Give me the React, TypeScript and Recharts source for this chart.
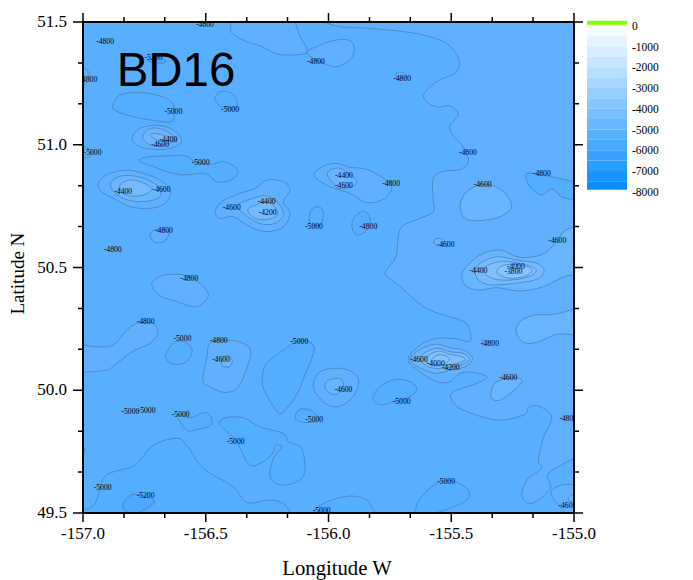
import React from 'react';
import { ComposedChart, ScatterChart, Scatter, XAxis, YAxis, ReferenceArea } from 'recharts';

type Pt = [number, number];

const xTicks = [-157, -156.833, -156.667, -156.5, -156.333, -156.167, -156, -155.833, -155.667, -155.5, -155.333, -155.167, -155];
const yTicks = [49.5, 49.667, 49.833, 50, 50.167, 50.333, 50.5, 50.667, 50.833, 51, 51.167, 51.333, 51.5];
const legendTicks = [0, -1000, -2000, -3000, -4000, -5000, -6000, -7000, -8000];
const bandEdges = [-150, -500, -1000, -1500, -2000, -2500, -3000, -3500, -4000, -4500, -5000, -5500, -6000, -6500, -7000, -7500, -7900];
const bandColors = ['#F7FBFF', '#E7F4FF', '#D7ECFF', '#C7E5FF', '#B7DEFF', '#A7D6FF', '#97CFFF', '#87C7FF', '#78C0FF', '#68B8FF', '#58B1FF', '#48A9FF', '#38A2FF', '#289BFF', '#1893FF', '#088CFF'];

const levelColor: Record<string, string> = {
  '-5200': '#4FA8FF', '-5000': '#54AEFF', '-4800': '#60B0FF', '-4600': '#6AB5FF',
  '-4400': '#74BAFF', '-4200': '#7EBFFF', '-4000': '#88C4FF', '-3800': '#92C9FF',
};

const bottomLeft: Pt[] = [[-157, 49.512], [-156.951, 49.539], [-156.917, 49.641], [-156.876, 49.668], [-156.788, 49.695], [-156.713, 49.777], [-156.618, 49.804], [-156.578, 49.777], [-156.51, 49.682], [-156.388, 49.607], [-156.333, 49.543], [-156.238, 49.553], [-156.184, 49.539], [-156.154, 49.5]];
const bottomLeftCorner: Pt[] = [[-157, 49.5]];
const lowBlob5200: Pt[] = [[-156.838, 49.532], [-156.815, 49.566], [-156.781, 49.576], [-156.713, 49.553], [-156.72, 49.532], [-156.781, 49.5], [-156.822, 49.505]];
const topBlob5000: Pt[] = [[-156.879, 51.162], [-156.849, 51.203], [-156.781, 51.213], [-156.7, 51.203], [-156.639, 51.175], [-156.629, 51.135], [-156.639, 51.094], [-156.727, 51.101], [-156.822, 51.121], [-156.87, 51.141]];
const topSmall5000: Pt[] = [[-156.462, 51.193], [-156.442, 51.216], [-156.408, 51.216], [-156.381, 51.196], [-156.374, 51.155], [-156.428, 51.152], [-156.453, 51.169]];
const tiny5200: Pt[] = [[-156.734, 51.345], [-156.686, 51.359], [-156.663, 51.338], [-156.686, 51.332], [-156.727, 51.338]];
const leftEdge5000: Pt[] = [[-157, 50.995], [-156.971, 50.979], [-156.971, 50.951], [-157, 50.945]];
const long5000: Pt[] = [[-156.768, 50.931], [-156.747, 50.949], [-156.659, 50.955], [-156.584, 50.955], [-156.544, 50.931], [-156.483, 50.921], [-156.428, 50.931], [-156.381, 50.911], [-156.37, 50.883], [-156.401, 50.854], [-156.455, 50.85], [-156.503, 50.883], [-156.591, 50.877], [-156.659, 50.89], [-156.713, 50.911]];
const mid5000: Pt[] = [[-156.078, 50.707], [-156.068, 50.737], [-156.041, 50.748], [-156.021, 50.727], [-156.028, 50.68], [-156.055, 50.669], [-156.075, 50.68]];
const eastSmall5000: Pt[] = [[-155.905, 50.673], [-155.892, 50.707], [-155.858, 50.73], [-155.833, 50.707], [-155.833, 50.666], [-155.865, 50.636], [-155.892, 50.636]];
const south5000a: Pt[] = [[-155.82, 49.967], [-155.79, 50.014], [-155.729, 50.044], [-155.668, 50.035], [-155.641, 50.005], [-155.668, 49.974], [-155.736, 49.953], [-155.79, 49.94]];
const south5000b: Pt[] = [[-155.65, 49.5], [-155.627, 49.559], [-155.559, 49.621], [-155.491, 49.63], [-155.43, 49.593], [-155.437, 49.553], [-155.505, 49.519], [-155.566, 49.5]];
const south5000c: Pt[] = [[-156.062, 49.5], [-156.034, 49.532], [-155.967, 49.559], [-155.905, 49.569], [-155.844, 49.553], [-155.81, 49.5]];
const west5000a: Pt[] = [[-156.663, 50.143], [-156.632, 50.191], [-156.591, 50.2], [-156.555, 50.164], [-156.578, 50.116], [-156.618, 50.105], [-156.652, 50.116]];
const west5000b: Pt[] = [[-156.269, 50.062], [-156.252, 50.109], [-156.184, 50.164], [-156.116, 50.204], [-156.062, 50.184], [-156.068, 50.13], [-156.102, 50.048], [-156.13, 49.98], [-156.191, 49.906], [-156.218, 49.926], [-156.252, 49.98], [-156.269, 50.021]];
const west5000c: Pt[] = [[-156.134, 49.899], [-156.116, 49.923], [-156.075, 49.919], [-156.041, 49.892], [-156.048, 49.872], [-156.102, 49.869], [-156.13, 49.879]];
const west5000d: Pt[] = [[-156.618, 49.899], [-156.564, 49.888], [-156.503, 49.91], [-156.476, 49.885], [-156.483, 49.855], [-156.544, 49.838], [-156.578, 49.838]];
const center5000: Pt[] = [[-156.445, 49.865], [-156.421, 49.888], [-156.347, 49.888], [-156.279, 49.851], [-156.184, 49.824], [-156.163, 49.79], [-156.109, 49.763], [-156.098, 49.661], [-156.143, 49.621], [-156.204, 49.616], [-156.238, 49.648], [-156.225, 49.722], [-156.191, 49.77], [-156.218, 49.774], [-156.231, 49.736], [-156.299, 49.693], [-156.333, 49.709], [-156.374, 49.79], [-156.428, 49.845]];
const leftNick5000: Pt[] = [[-157, 49.77], [-156.992, 49.756], [-157, 49.736]];

const topBand: Pt[] = [[-156.398, 51.5], [-156.392, 51.454], [-156.333, 51.42], [-156.272, 51.4], [-156.211, 51.37], [-156.143, 51.366], [-156.086, 51.379], [-156.116, 51.44], [-156.136, 51.5]];
const topLobe: Pt[] = [[-156.086, 51.379], [-156.034, 51.406], [-155.967, 51.427], [-155.912, 51.424], [-155.895, 51.393], [-155.91, 51.348], [-155.967, 51.318], [-156.021, 51.332], [-156.062, 51.352]];
const eastMain: Pt[] = [[-156.021, 51.5], [-155.953, 51.481], [-155.831, 51.474], [-155.695, 51.461], [-155.613, 51.447], [-155.532, 51.42], [-155.491, 51.386], [-155.467, 51.338], [-155.484, 51.291], [-155.559, 51.257], [-155.613, 51.199], [-155.566, 51.155], [-155.505, 51.158], [-155.471, 51.121], [-155.505, 51.08], [-155.498, 51.046], [-155.451, 50.992], [-155.43, 50.931], [-155.464, 50.9], [-155.539, 50.89], [-155.575, 50.856], [-155.573, 50.775], [-155.573, 50.727], [-155.627, 50.7], [-155.702, 50.666], [-155.719, 50.598], [-155.725, 50.544], [-155.763, 50.49], [-155.767, 50.469], [-155.709, 50.422], [-155.6, 50.333], [-155.464, 50.286], [-155.43, 50.259], [-155.423, 50.2], [-155.478, 50.209], [-155.559, 50.211], [-155.627, 50.184], [-155.675, 50.126], [-155.627, 50.075], [-155.559, 50.035], [-155.505, 50.035], [-155.464, 50.069], [-155.417, 50.073], [-155.355, 50.055], [-155.396, 50.028], [-155.491, 49.994], [-155.498, 49.96], [-155.451, 49.919], [-155.315, 49.879], [-155.206, 49.899], [-155.182, 49.933], [-155.138, 49.933], [-155.091, 49.892], [-155.125, 49.804], [-155.145, 49.716], [-155.131, 49.682], [-155.186, 49.641], [-155.213, 49.573], [-155.172, 49.539], [-155.097, 49.6], [-155.104, 49.661], [-155, 49.722]];
const eastMainCorner: Pt[] = [[-155, 51.5]];
const eastNotch: Pt[] = [[-155, 50.85], [-155.097, 50.87], [-155.193, 50.883], [-155.179, 50.829], [-155.131, 50.795], [-155.091, 50.82], [-155.05, 50.788], [-155, 50.775]];
const southEast: Pt[] = [[-155, 49.616], [-155.05, 49.614], [-155.091, 49.593], [-155.084, 49.559], [-155.036, 49.5]];
const southEastCorner: Pt[] = [[-155, 49.5]];
const leftTop4800: Pt[] = [[-157, 51.318], [-156.978, 51.298], [-156.974, 51.27], [-157, 51.237]];
const peak1Outer: Pt[] = [[-156.799, 51.019], [-156.775, 51.063], [-156.7, 51.08], [-156.632, 51.06], [-156.598, 51.019], [-156.625, 50.992], [-156.686, 50.981], [-156.761, 50.989]];
const peak2Outer: Pt[] = [[-156.938, 50.843], [-156.904, 50.877], [-156.829, 50.897], [-156.754, 50.883], [-156.686, 50.856], [-156.643, 50.809], [-156.666, 50.761], [-156.727, 50.741], [-156.809, 50.748], [-156.876, 50.782], [-156.924, 50.809]];
const peak3Outer: Pt[] = [[-156.462, 50.727], [-156.435, 50.768], [-156.36, 50.802], [-156.299, 50.822], [-156.252, 50.856], [-156.184, 50.85], [-156.157, 50.816], [-156.184, 50.768], [-156.157, 50.721], [-156.184, 50.666], [-156.252, 50.646], [-156.32, 50.666], [-156.388, 50.707], [-156.442, 50.7]];
const small4800a: Pt[] = [[-156.727, 50.632], [-156.707, 50.653], [-156.652, 50.646], [-156.666, 50.609], [-156.707, 50.602]];
const north4800: Pt[] = [[-156.058, 50.881], [-156.021, 50.913], [-155.967, 50.924], [-155.912, 50.908], [-155.844, 50.9], [-155.776, 50.863], [-155.742, 50.829], [-155.77, 50.782], [-155.844, 50.764], [-155.912, 50.802], [-155.994, 50.829], [-156.041, 50.856]];
const small4800b: Pt[] = [[-155.725, 51.291], [-155.702, 51.295], [-155.684, 51.277], [-155.717, 51.269]];
const small4800c: Pt[] = [[-155.376, 50.195], [-155.362, 50.204], [-155.349, 50.195], [-155.369, 50.184]];
const west4800a: Pt[] = [[-156.72, 50.429], [-156.693, 50.462], [-156.646, 50.472], [-156.578, 50.467], [-156.517, 50.429], [-156.489, 50.388], [-156.517, 50.35], [-156.551, 50.34], [-156.618, 50.361], [-156.686, 50.385]];
const westArm: Pt[] = [[-157, 50.184], [-156.944, 50.177], [-156.876, 50.184], [-156.829, 50.238], [-156.781, 50.272], [-156.713, 50.272], [-156.696, 50.232], [-156.727, 50.191], [-156.795, 50.16], [-156.863, 50.109], [-156.904, 50.082], [-157, 50.073]];
const squarePeak: Pt[] = [[-156.512, 50.041], [-156.496, 50.13], [-156.483, 50.191], [-156.415, 50.204], [-156.347, 50.191], [-156.317, 50.157], [-156.333, 50.089], [-156.367, 50.014], [-156.421, 49.991], [-156.483, 50.014]];
const south4800: Pt[] = [[-156.062, 50.014], [-156.041, 50.069], [-155.987, 50.089], [-155.919, 50.082], [-155.878, 50.041], [-155.899, 49.974], [-155.96, 49.933], [-156.021, 49.953]];

const peak1Mid: Pt[] = [[-156.757, 51.033], [-156.734, 51.063], [-156.693, 51.067], [-156.646, 51.046], [-156.618, 51.019], [-156.652, 51.006], [-156.707, 50.995], [-156.741, 51.008]];
const peak2Mid: Pt[] = [[-156.887, 50.843], [-156.856, 50.87], [-156.802, 50.874], [-156.741, 50.859], [-156.693, 50.829], [-156.684, 50.795], [-156.713, 50.775], [-156.781, 50.768], [-156.836, 50.782], [-156.876, 50.809]];
const peak3Mid: Pt[] = [[-156.374, 50.754], [-156.306, 50.782], [-156.252, 50.792], [-156.204, 50.761], [-156.184, 50.714], [-156.218, 50.68], [-156.272, 50.677], [-156.32, 50.7], [-156.36, 50.734]];
const north4600: Pt[] = [[-156.005, 50.877], [-155.994, 50.897], [-155.953, 50.904], [-155.912, 50.877], [-155.885, 50.852], [-155.905, 50.829], [-155.96, 50.822], [-155.98, 50.843]];
const east4600Blob: Pt[] = [[-155.464, 50.754], [-155.437, 50.809], [-155.383, 50.836], [-155.328, 50.832], [-155.281, 50.802], [-155.254, 50.748], [-155.301, 50.707], [-155.383, 50.691], [-155.444, 50.7]];
const east4600Small: Pt[] = [[-155.569, 50.612], [-155.546, 50.619], [-155.525, 50.605], [-155.552, 50.587], [-155.566, 50.592]];
const eastPeak4600: Pt[] = [[-155, 50.666], [-155.043, 50.646], [-155.077, 50.598], [-155.131, 50.553], [-155.22, 50.541], [-155.301, 50.571], [-155.383, 50.551], [-155.444, 50.496], [-155.457, 50.462], [-155.437, 50.422], [-155.383, 50.408], [-155.315, 50.418], [-155.22, 50.404], [-155.125, 50.422], [-155.043, 50.462], [-155, 50.469]];
const eastLight: Pt[] = [[-155, 50.331], [-155.084, 50.309], [-155.165, 50.306], [-155.22, 50.279], [-155.236, 50.238], [-155.206, 50.195], [-155.152, 50.195], [-155.07, 50.228], [-155, 50.225]];
const south4600a: Pt[] = [[-155.339, 49.987], [-155.315, 50.035], [-155.233, 50.051], [-155.213, 50.032], [-155.26, 49.987], [-155.301, 49.96], [-155.331, 49.963]];
const south4600b: Pt[] = [[-156.014, 50.014], [-156.001, 50.041], [-155.96, 50.048], [-155.939, 50.028], [-155.96, 49.987], [-155.994, 49.987]];
const square4600: Pt[] = [[-156.435, 50.123], [-156.415, 50.141], [-156.392, 50.123], [-156.404, 50.096], [-156.431, 50.099]];
const corner4600: Pt[] = [[-155, 49.576], [-155.016, 49.57], [-155.023, 49.553], [-155, 49.543]];
const ring4600: Pt[] = [[-155.665, 50.127], [-155.641, 50.157], [-155.593, 50.181], [-155.552, 50.187], [-155.505, 50.173], [-155.451, 50.164], [-155.413, 50.13], [-155.444, 50.096], [-155.505, 50.082], [-155.559, 50.069], [-155.607, 50.082], [-155.647, 50.103]];

const peak1High: Pt[] = [[-156.724, 51.036], [-156.72, 51.046], [-156.693, 51.044], [-156.652, 51.033], [-156.621, 51.019], [-156.659, 51.017], [-156.697, 51.019]];
const peak2High: Pt[] = [[-156.849, 50.836], [-156.815, 50.856], [-156.768, 50.85], [-156.727, 50.829], [-156.72, 50.816], [-156.754, 50.795], [-156.809, 50.791], [-156.842, 50.809]];
const peak3High: Pt[] = [[-156.329, 50.734], [-156.299, 50.754], [-156.245, 50.768], [-156.211, 50.734], [-156.211, 50.71], [-156.252, 50.696], [-156.299, 50.7]];
const east4400: Pt[] = [[-155.403, 50.483], [-155.383, 50.517], [-155.315, 50.544], [-155.233, 50.53], [-155.152, 50.517], [-155.122, 50.487], [-155.152, 50.452], [-155.247, 50.435], [-155.342, 50.429], [-155.389, 50.449]];
const east4200: Pt[] = [[-155.369, 50.483], [-155.349, 50.51], [-155.288, 50.525], [-155.22, 50.517], [-155.154, 50.492], [-155.186, 50.462], [-155.26, 50.449], [-155.328, 50.454]];
const east4000: Pt[] = [[-155.315, 50.483], [-155.294, 50.506], [-155.254, 50.513], [-155.199, 50.506], [-155.172, 50.487], [-155.199, 50.465], [-155.254, 50.456], [-155.294, 50.465]];
const ring4400: Pt[] = [[-155.627, 50.13], [-155.6, 50.157], [-155.552, 50.171], [-155.505, 50.157], [-155.451, 50.15], [-155.426, 50.127], [-155.457, 50.105], [-155.518, 50.092], [-155.566, 50.089], [-155.607, 50.103]];
const ring4200: Pt[] = [[-155.607, 50.127], [-155.58, 50.15], [-155.546, 50.16], [-155.505, 50.146], [-155.457, 50.137], [-155.444, 50.123], [-155.478, 50.109], [-155.518, 50.103], [-155.566, 50.1], [-155.593, 50.109]];
const ring4000: Pt[] = [[-155.58, 50.123], [-155.559, 50.141], [-155.532, 50.143], [-155.508, 50.127], [-155.532, 50.105], [-155.566, 50.105]];
const plotCorners: Pt[] = [[-157, 49.5], [-157, 51.5], [-155, 51.5], [-155, 49.5]];

type Contour = { level: string; pts: Pt[]; corners?: Pt[]; open?: boolean };
const contours: Contour[] = [
  { level: '-5000', pts: bottomLeft, corners: bottomLeftCorner, open: true },
  { level: '-5200', pts: lowBlob5200 },
  { level: '-5000', pts: topBlob5000 },
  { level: '-5000', pts: topSmall5000 },
  { level: '-5200', pts: tiny5200 },
  { level: '-5000', pts: leftEdge5000, open: true },
  { level: '-5000', pts: long5000 },
  { level: '-5000', pts: mid5000 },
  { level: '-5000', pts: eastSmall5000 },
  { level: '-5000', pts: south5000a },
  { level: '-5000', pts: south5000b, open: true },
  { level: '-5000', pts: south5000c, open: true },
  { level: '-5000', pts: west5000a },
  { level: '-5000', pts: west5000b },
  { level: '-5000', pts: west5000c },
  { level: '-5000', pts: west5000d },
  { level: '-5000', pts: center5000 },
  { level: '-5000', pts: leftNick5000, open: true },
  { level: '-4800', pts: topBand, open: true },
  { level: '-4800', pts: topLobe },
  { level: '-4800', pts: eastMain, corners: eastMainCorner, open: true },
  { level: '-5000', pts: eastNotch, open: true },
  { level: '-4800', pts: southEast, corners: southEastCorner, open: true },
  { level: '-4800', pts: leftTop4800, open: true },
  { level: '-4800', pts: peak1Outer },
  { level: '-4800', pts: peak2Outer },
  { level: '-4800', pts: peak3Outer },
  { level: '-4800', pts: small4800a },
  { level: '-4800', pts: north4800 },
  { level: '-4800', pts: small4800b },
  { level: '-4800', pts: small4800c },
  { level: '-4800', pts: west4800a },
  { level: '-4800', pts: westArm, open: true },
  { level: '-4800', pts: squarePeak },
  { level: '-4800', pts: south4800 },
  { level: '-4600', pts: peak1Mid },
  { level: '-4600', pts: peak2Mid },
  { level: '-4600', pts: peak3Mid },
  { level: '-4600', pts: north4600 },
  { level: '-4600', pts: east4600Blob },
  { level: '-4600', pts: east4600Small },
  { level: '-4600', pts: eastPeak4600, open: true },
  { level: '-4600', pts: eastLight, open: true },
  { level: '-4600', pts: south4600a },
  { level: '-4600', pts: south4600b },
  { level: '-4600', pts: square4600 },
  { level: '-4600', pts: corner4600, open: true },
  { level: '-4600', pts: ring4600 },
  { level: '-4400', pts: peak1High },
  { level: '-4400', pts: peak2High },
  { level: '-4400', pts: peak3High },
  { level: '-4400', pts: east4400 },
  { level: '-4400', pts: ring4400 },
  { level: '-4200', pts: east4200 },
  { level: '-4200', pts: ring4200 },
  { level: '-4000', pts: east4000 },
  { level: '-4000', pts: ring4000 },
];

const labelLon = [-156.503, -156.91, -156.713, -156.978, -156.051, -156.632, -156.401, -156.652, -156.686, -156.961, -156.521, -156.836, -156.68, -156.394, -156.252, -156.248, -156.059, -156.67, -156.879, -155.7, -155.432, -155.937, -155.937, -155.745, -155.131, -155.372, -155.838, -155.068, -155.523, -155.237, -155.247, -155.389, -156.567, -156.745, -156.595, -156.447, -156.438, -156.119, -156.807, -156.741, -156.602, -156.378, -156.058, -156.92, -156.745, -156.028, -155.632, -155.563, -155.502, -155.342, -155.267, -155.939, -155.702, -155.023, -155.521, -155.027];
const labelLat = [51.49, 51.42, 51.355, 51.266, 51.341, 51.135, 51.144, 51.023, 50.999, 50.968, 50.927, 50.809, 50.818, 50.744, 50.768, 50.725, 50.669, 50.65, 50.574, 51.27, 50.969, 50.874, 50.836, 50.843, 50.883, 50.839, 50.669, 50.612, 50.594, 50.503, 50.483, 50.486, 50.456, 50.279, 50.209, 50.202, 50.126, 50.2, 49.915, 49.919, 49.903, 49.79, 49.879, 49.604, 49.573, 49.512, 50.126, 50.107, 50.094, 50.192, 50.052, 50.003, 49.956, 49.883, 49.63, 49.53];
const labelText = ['-4800', '-4800', '-5200', '-4800', '-4800', '-5000', '-5000', '-4400', '-4600', '-5000', '-5000', '-4400', '-4600', '-4600', '-4400', '-4200', '-5000', '-4800', '-4800', '-4800', '-4800', '-4400', '-4600', '-4800', '-4800', '-4600', '-4800', '-4600', '-4600', '-4000', '-3800', '-4400', '-4800', '-4800', '-5000', '-4800', '-4600', '-5000', '-5000', '-5000', '-5000', '-5000', '-5000', '-5000', '-5200', '-5000', '-4600', '-4000', '-4200', '-4800', '-4600', '-4600', '-5000', '-4800', '-5000', '-4600'];
const labelRows = labelText.map((text, i) => ({ x: labelLon[i], y: labelLat[i], text }));
const titleRows = [{ x: -156.621, y: 51.239, text: 'BD16' }];
const legendRows = legendTicks.map((v) => ({ x: 0.5, v }));

const SERIF = '"Liberation Serif", "Times New Roman", serif';
const STROKE = '#4379AD';

const isMajor = (v: number) => Math.abs(v * 2 - Math.round(v * 2)) < 0.01;

function smooth(points: { x: number; y: number }[], closed: boolean) {
  const n = points.length;
  const at = (i: number) => (closed ? points[(i + n) % n] : points[Math.max(0, Math.min(n - 1, i))]);
  let d = `M${points[0].x},${points[0].y}`;
  const segs = closed ? n : n - 1;
  for (let i = 0; i < segs; i++) {
    const p0 = at(i - 1), p1 = at(i), p2 = at(i + 1), p3 = at(i + 2);
    d += `C${p1.x + (p2.x - p0.x) / 6},${p1.y + (p2.y - p0.y) / 6} ${p2.x - (p3.x - p1.x) / 6},${p2.y - (p3.y - p1.y) / 6} ${p2.x},${p2.y}`;
  }
  return d;
}

const renderContour = (c: Contour) => (props: any) => {
  const all = props.points as { x: number; y: number }[];
  const curve = all.slice(0, c.pts.length);
  const rest = all.slice(c.pts.length);
  const line = smooth(curve, !c.open);
  const fillPath = c.open ? `${line}${rest.map((p) => `L${p.x},${p.y}`).join('')}Z` : `${line}Z`;
  return (
    <g key="contour">
      <path d={fillPath} fill={levelColor[c.level]} stroke="none" />
      <path d={line} fill="none" stroke={STROKE} strokeWidth={0.7} />
    </g>
  );
};

const renderFrame = (props: any) => {
  const pts = props.points as { x: number; y: number }[];
  const d = `M${pts.map((p) => `${p.x},${p.y}`).join('L')}Z`;
  return <path key="frame" d={d} fill="none" stroke="#000" strokeWidth={2} />;
};

const noDot = () => <g />;

const labelDot = (p: any) => (
  <text x={p.cx} y={p.cy + 2.5} textAnchor="middle" fontFamily={SERIF} fontSize={7.7} fill="#000">
    {p.payload.text}
  </text>
);
const titleDot = (p: any) => (
  <text x={p.cx} y={p.cy} textAnchor="middle" fontFamily='"Liberation Sans", Arial, sans-serif' fontSize={47.5} fill="#000">
    {p.payload.text}
  </text>
);

const BottomTick = (p: any) => {
  const v = p.payload.value;
  const m = isMajor(v);
  return (
    <g>
      <line x1={p.x} x2={p.x} y1={p.y} y2={p.y + (m ? 9 : 5)} stroke="#000" strokeWidth={1.5} />
      {m && <text x={p.x} y={p.y + 26} textAnchor="middle" fontFamily={SERIF} fontSize={17} fill="#000">{v.toFixed(1)}</text>}
    </g>
  );
};
const TopTick = (p: any) => (
  <line x1={p.x} x2={p.x} y1={p.y} y2={p.y - (isMajor(p.payload.value) ? 9 : 5)} stroke="#000" strokeWidth={1.5} />
);
const LeftTick = (p: any) => {
  const v = p.payload.value;
  const m = isMajor(v);
  return (
    <g>
      <line x1={p.x} x2={p.x - (m ? 10 : 5)} y1={p.y} y2={p.y} stroke="#000" strokeWidth={1.5} />
      {m && <text x={p.x - 16} y={p.y + 5} textAnchor="end" fontFamily={SERIF} fontSize={17} fill="#000">{v.toFixed(1)}</text>}
    </g>
  );
};
const RightTick = (p: any) => (
  <line x1={p.x} x2={p.x + (isMajor(p.payload.value) ? 9 : 5)} y1={p.y} y2={p.y} stroke="#000" strokeWidth={1.5} />
);

const axisLine = { stroke: '#000', strokeWidth: 2 };
const xDomain: [number, number] = [-157, -155];
const yDomain: [number, number] = [49.5, 51.5];

function MainChart() {
  return (
    <ScatterChart width={693} height={580} margin={{ top: 10, right: 99, bottom: 20, left: 0 }}>
      <ReferenceArea xAxisId="b" yAxisId="l" x1={-157} x2={-155} y1={49.5} y2={51.5} fill="#59AFFF" fillOpacity={1} stroke="none" />
      {contours.map((c, i) => (
        <Scatter
          key={i}
          xAxisId="b"
          yAxisId="l"
          data={[...c.pts, ...(c.corners ?? [])].map(([x, y]) => ({ x, y }))}
          dataKey="y"
          line={renderContour(c)}
          shape={noDot}
          isAnimationActive={false}
        />
      ))}
      <Scatter xAxisId="b" yAxisId="l" data={labelRows} dataKey="y" shape={labelDot} isAnimationActive={false} />
      <Scatter xAxisId="b" yAxisId="l" data={titleRows} dataKey="y" shape={titleDot} isAnimationActive={false} />
      <Scatter xAxisId="b" yAxisId="l" data={plotCorners.map(([x, y]) => ({ x, y }))} dataKey="y" line={renderFrame} shape={noDot} isAnimationActive={false} />
      <XAxis xAxisId="b" type="number" dataKey="x" orientation="bottom" height={47} domain={xDomain} ticks={xTicks} interval={0} allowDataOverflow tickSize={0} tickMargin={0} tickLine={false} axisLine={axisLine} tick={BottomTick}
        label={{ value: 'Longitude W', position: 'insideBottom', offset: -15, dx: 8.5, fontFamily: SERIF, fontSize: 20.7, fill: '#000' }} />
      <XAxis xAxisId="t" type="number" dataKey="x" orientation="top" height={12} domain={xDomain} ticks={xTicks} interval={0} allowDataOverflow tickSize={0} tickMargin={0} tickLine={false} axisLine={axisLine} tick={TopTick} />
      <YAxis yAxisId="l" type="number" dataKey="y" orientation="left" width={83} domain={yDomain} ticks={yTicks} interval={0} allowDataOverflow tickSize={0} tickMargin={0} tickLine={false} axisLine={axisLine} tick={LeftTick}
        label={{ value: 'Latitude N', angle: -90, position: 'insideLeft', offset: 17, dy: 47, fontFamily: SERIF, fontSize: 19, fill: '#000' }} />
      <YAxis yAxisId="r" type="number" dataKey="y" orientation="right" width={20} domain={yDomain} ticks={yTicks} interval={0} allowDataOverflow tickSize={0} tickMargin={0} tickLine={false} axisLine={axisLine} tick={RightTick} />
    </ScatterChart>
  );
}

function ColorBar() {
  return (
    <ComposedChart width={123} height={210} data={legendRows} margin={{ top: 17.4, right: 0, bottom: 18.3, left: 17 }}>
      <XAxis xAxisId="c" type="number" dataKey="x" domain={[0, 1]} hide />
      <YAxis yAxisId="v" type="number" dataKey="v" orientation="right" width={66} domain={[-8000, 400]} ticks={legendTicks} interval={0} tickSize={0} tickMargin={5} tickLine={false} axisLine={false}
        tick={{ fontFamily: SERIF, fontSize: 11.5, fill: '#000', textAnchor: 'start' }} />
      <Scatter xAxisId="c" yAxisId="v" data={legendRows} dataKey="v" shape={noDot} isAnimationActive={false} />
      <ReferenceArea xAxisId="c" yAxisId="v" x1={0} x2={1} y1={48} y2={240} fill="#80FF00" fillOpacity={1} stroke="none" />
      {bandColors.map((color, i) => (
        <ReferenceArea key={i} xAxisId="c" yAxisId="v" x1={0} x2={1} y1={bandEdges[i + 1]} y2={bandEdges[i]} fill={color} fillOpacity={1} stroke="none" />
      ))}
    </ComposedChart>
  );
}

export default function App() {
  return (
    <div style={{ position: 'absolute', left: 0, top: 0, width: 693, height: 580, background: '#fff' }}>
      <MainChart />
      <div style={{ position: 'absolute', left: 570, top: 0 }}>
        <ColorBar />
      </div>
    </div>
  );
}
